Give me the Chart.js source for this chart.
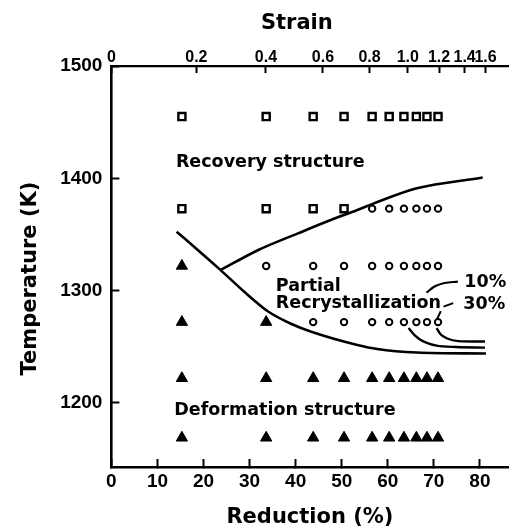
<!DOCTYPE html>
<html><head><meta charset="utf-8">
<script src="https://cdn.jsdelivr.net/npm/chart.js@4.4.1/dist/chart.umd.min.js"></script>
<style>html,body{margin:0;padding:0;background:#fff;}#wrap{width:516px;height:532px;position:relative;}</style>
</head><body><div id="wrap"><canvas id="c"></canvas></div>
<script>
// ---- data ----
const reductionCols = [15.3, 33.6, 43.8, 50.5, 56.6, 60.3, 63.5, 66.2, 68.5, 70.9];
const temperatureRows = [1455, 1373, 1322, 1272, 1222, 1169];
// R = recovery structure (open square), P = partial recrystallization (open circle), D = deformation structure (filled triangle)
const structureRows = ['RRRRRRRRRR', 'RRRRPPPPPP', 'DPPPPPPPPP', 'DDPPPPPPPP', 'DDDDDDDDDD', 'DDDDDDDDDD'];

const reductionTicks = [0, 10, 20, 30, 40, 50, 60, 70, 80];
const temperatureTicks = [1200, 1300, 1400, 1500];
const strainTicks = [0, 0.2, 0.4, 0.6, 0.8, 1.0, 1.2, 1.4, 1.6];
const strainLabels = ['0', '0.2', '0.4', '0.6', '0.8', '1.0', '1.2', '1.4', '1.6'];

// boundary curves (reduction %, temperature K)
const lowerBoundX = [14.15, 19.0, 23.7, 28.9, 34.1, 39.1, 43.4, 53.4, 57.7, 66.3, 81.3];
const lowerBoundY = [1352.5, 1335.3, 1318.3, 1298.8, 1281.2, 1270.3, 1263.4, 1251.6, 1248.0, 1244.9, 1244.0];
const upperBoundX = [23.7, 31.9, 40.5, 47.6, 53.4, 57.0, 66.3, 80.6];
const upperBoundY = [1318.3, 1336.2, 1351.0, 1362.9, 1371.8, 1377.7, 1391.1, 1400.7];
const curve10X = [64.5, 65.8, 67.6, 70.6, 74.9, 81.1];
const curve10Y = [1266.7, 1260.5, 1255.1, 1251.1, 1249.8, 1249.3];
const curve30X = [70.6, 71.4, 72.9, 75.3, 81.1];
const curve30Y = [1266.7, 1261.4, 1257.4, 1255.1, 1254.7];
const leader10X = [68.4, 70.13, 72.3, 75.2];
const leader10Y = [1298.2, 1303.7, 1306.8, 1308.0];
const leader30X = [70.6, 71.5];
const leader30Y = [1273.8, 1281.8];
const dash30X = [72.1, 74.2];
const dash30Y = [1285.8, 1288.9];

const labelTexts = ['Recovery structure', 'Partial', 'Recrystallization', '10%', '30%', 'Deformation structure'];

// ---- layout / style (not data) ----
const labelAnchors = {x: [14.0, 35.7, 35.7, 76.6, 76.4, 13.66], y: [1410.1, 1299.6, 1284.5, 1303.5, 1283.3, 1189.2]};
const INK = '#000';
const TEXT_FONT = 'bold 17.5px "DejaVu Sans"';
const TICK_FONT = {family: '"Liberation Sans", Arial, sans-serif', size: 19, weight: 'bold'};

function pts(xs, ys) { return xs.map((x, i) => ({x: x, y: ys[i]})); }
const recovery = [], partial = [], deformation = [];
structureRows.forEach((row, ri) => {
  row.split('').forEach((c, ci) => {
    const p = {x: reductionCols[ci], y: temperatureRows[ri]};
    (c === 'R' ? recovery : c === 'P' ? partial : deformation).push(p);
  });
});

function curve(xs, ys, w) {
  return {type: 'line', data: pts(xs, ys), borderColor: INK, borderWidth: w || 2.6, pointRadius: 0,
    cubicInterpolationMode: 'monotone', fill: false, showLine: true, xAxisID: 'x', yAxisID: 'y', order: 5};
}

const textPlugin = {
  id: 'texts',
  afterDatasetsDraw(chart) {
    const ctx = chart.ctx, xs = chart.scales.x, ys = chart.scales.y, ca = chart.chartArea;
    ctx.save();
    ctx.fillStyle = INK;
    ctx.font = TEXT_FONT;
    ctx.textAlign = 'left';
    ctx.textBaseline = 'alphabetic';
    labelTexts.forEach((t, i) => {
      ctx.fillText(t, xs.getPixelForValue(labelAnchors.x[i]), ys.getPixelForValue(labelAnchors.y[i]));
    });
    // axis titles
    ctx.font = 'bold 21px "DejaVu Sans"';
    ctx.textAlign = 'center';
    ctx.fillText('Strain', ca.left + (ca.right - ca.left) * 0.467, 28.5);
    ctx.translate(36, ca.top + (ca.bottom - ca.top) * 0.53);
    ctx.rotate(-Math.PI / 2);
    ctx.fillText('Temperature (K)', 0, 0);
    ctx.restore();
  }
};

new Chart(document.getElementById('c'), {
  type: 'scatter',
  data: {
    datasets: [
      {label: 'Recovery structure', data: recovery, pointStyle: 'rect', pointRadius: 5, borderWidth: 2.4,
        borderColor: INK, backgroundColor: '#fff', xAxisID: 'x', yAxisID: 'y', order: 1},
      {label: 'Partial recrystallization', data: partial, pointStyle: 'circle', pointRadius: 3.2, borderWidth: 2,
        borderColor: INK, backgroundColor: '#fff', xAxisID: 'x', yAxisID: 'y', order: 1},
      {label: 'Deformation structure', data: deformation, pointStyle: 'triangle', pointRadius: 6.5, borderWidth: 1,
        borderColor: INK, backgroundColor: INK, xAxisID: 'x', yAxisID: 'y', order: 1},
      curve(lowerBoundX, lowerBoundY),
      curve(upperBoundX, upperBoundY),
      curve(curve10X, curve10Y, 2.4),
      curve(curve30X, curve30Y, 2.4),
      curve(leader10X, leader10Y, 2.2),
      curve(leader30X, leader30Y, 2),
      curve(dash30X, dash30Y, 2)
    ]
  },
  options: {
    responsive: true, maintainAspectRatio: false, animation: false,
    layout: {padding: {left: 0, right: 3, top: 0, bottom: 0}},
    plugins: {legend: {display: false}, tooltip: {enabled: false}},
    scales: {
      x: {
        type: 'linear', position: 'bottom', min: 0, max: 86.2,
        afterBuildTicks: s => { s.ticks = reductionTicks.map(v => ({value: v})); },
        afterFit: s => { s.height = 65; },
        ticks: {autoSkip: false, maxRotation: 0, minRotation: 0, padding: 11.3, color: INK, font: TICK_FONT,
          callback: (v, i) => String(reductionTicks[i])},
        grid: {drawOnChartArea: false, drawTicks: true, tickLength: -8, tickWidth: 2, tickColor: INK},
        border: {display: true, color: INK, width: 2.5},
        title: {display: true, text: 'Reduction (%)', color: INK,
          font: {family: '"DejaVu Sans"', size: 21, weight: 'bold', lineHeight: 1.2}, padding: {top: 0, bottom: 1.4}}
      },
      x2: {
        type: 'linear', position: 'top', min: 0, max: 84.7,
        afterBuildTicks: s => { s.ticks = strainTicks.map(e => ({value: 100 * (1 - Math.exp(-e))})); },
        afterFit: s => { s.height = 66; },
        ticks: {autoSkip: false, maxRotation: 0, minRotation: 0, padding: 5.5, color: INK,
          font: {family: TICK_FONT.family, size: 16, weight: 'bold'},
          callback: (v, i) => strainLabels[i]},
        grid: {drawOnChartArea: false, drawTicks: true, tickLength: -7, tickWidth: 2, tickColor: INK},
        border: {display: true, color: INK, width: 2.2}
      },
      y: {
        type: 'linear', position: 'left', min: 1143, max: 1500,
        afterBuildTicks: s => { s.ticks = temperatureTicks.map(v => ({value: v})); },
        afterFit: s => { s.width = 111.4; },
        ticks: {autoSkip: false, padding: 17, color: INK, font: TICK_FONT,
          callback: (v, i) => String(temperatureTicks[i])},
        grid: {drawOnChartArea: false, drawTicks: true, tickLength: -8, tickWidth: 2, tickColor: INK},
        border: {display: true, color: INK, width: 2.6}
      }
    }
  },
  plugins: [textPlugin]
});
</script>
</body></html>
